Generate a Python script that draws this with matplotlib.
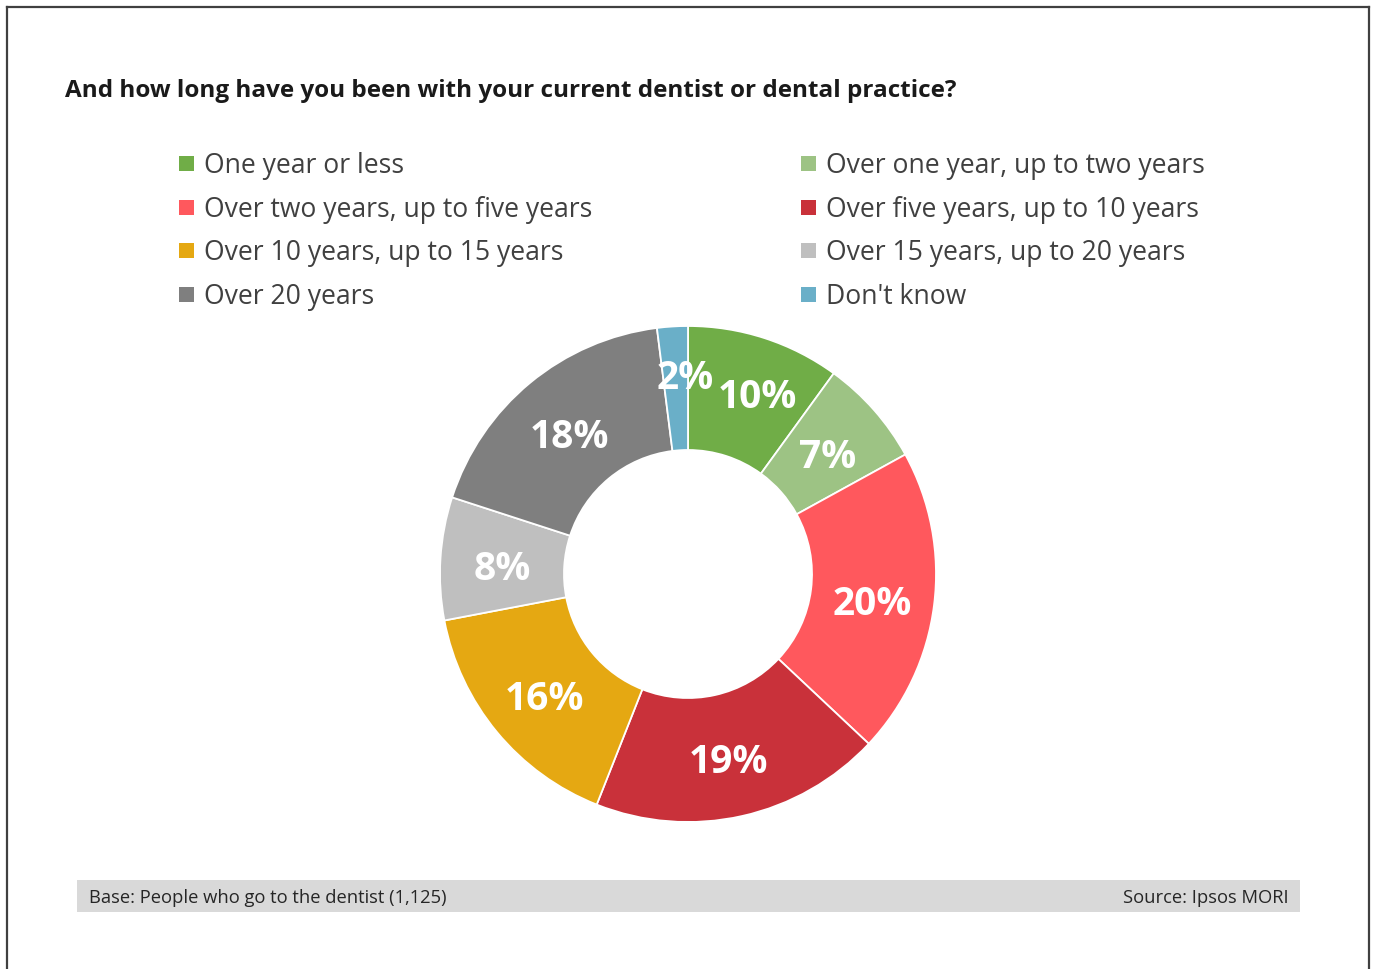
import matplotlib
matplotlib.use("Agg")
import matplotlib.pyplot as plt
from matplotlib.patches import Rectangle
from matplotlib.lines import Line2D

plt.rcParams['font.family'] = ['Open Sans', 'DejaVu Sans']

labels = ["One year or less", "Over one year, up to two years",
          "Over two years, up to five years", "Over five years, up to 10 years",
          "Over 10 years, up to 15 years", "Over 15 years, up to 20 years",
          "Over 20 years", "Don't know"]
values = [10, 7, 20, 19, 16, 8, 18, 2]
colors = ["#70AD47", "#9DC384", "#FF585D", "#C9313A",
          "#E5A812", "#BFBFBF", "#7F7F7F", "#6AAFC8"]

W, H = 1376, 969
fig = plt.figure(figsize=(W / 100, H / 100), dpi=100)
# work in pixel coordinates, y measured up from the bottom
ax = fig.add_axes([0, 0, 1, 1])

# outer frame (bottom edge falls off the page)
for xs, ys in [([7, 7], [-5, H - 7]), ([7, 1369], [H - 7, H - 7]), ([1369, 1369], [H - 7, -5])]:
    ax.add_line(Line2D(xs, ys, color="#404040", lw=1.6))

ax.text(65, H - 91, "And how long have you been with your current dentist or dental practice?",
        fontsize=17.5, fontweight='bold', color="#1a1a1a", va='center', ha='left')

# legend, two columns filled row by row
col_x = [179, 801]
row_y = [166, 210, 253, 297]
for i, (lab, c) in enumerate(zip(labels, colors)):
    x = col_x[i % 2]
    y = H - row_y[i // 2]
    ax.add_patch(Rectangle((x, y - 4.5), 15, 15, color=c, lw=0))
    ax.text(x + 25, y, lab, fontsize=19.1, color="#404040", va='center', ha='left')

cx, cy, R = 688, H - 574, 248
wedges, _, autotexts = ax.pie(values, colors=colors, startangle=90, counterclock=False,
                              center=(cx, cy), radius=R, autopct='%d%%', pctdistance=0.75,
                              wedgeprops=dict(width=R * 0.5, edgecolor='white', linewidth=1.3),
                              textprops=dict(color='white', fontsize=28, fontweight='bold'),
                              frame=True)
# small label nudges so the two top labels don't overlap
nudge = {0: (12, 7), 7: (9, 17)}
for i, t in enumerate(autotexts):
    x, y = t.get_position()
    dx, dy = nudge.get(i, (0, 0))
    t.set_position((x + dx, y - 7 + dy))

ax.set_xlim(0, W)
ax.set_ylim(0, H)
ax.set_aspect('equal')
ax.axis('off')

# footer band
ax.add_patch(Rectangle((77, H - 912), 1300 - 77, 32, color="#D9D9D9", lw=0))
ax.text(89, H - 898, "Base: People who go to the dentist (1,125)", fontsize=13.2,
        color="#262626", va='center', ha='left')
ax.text(1289, H - 898, "Source: Ipsos MORI", fontsize=13.2,
        color="#262626", va='center', ha='right')

fig.savefig("out.png", dpi=100, facecolor='white')
